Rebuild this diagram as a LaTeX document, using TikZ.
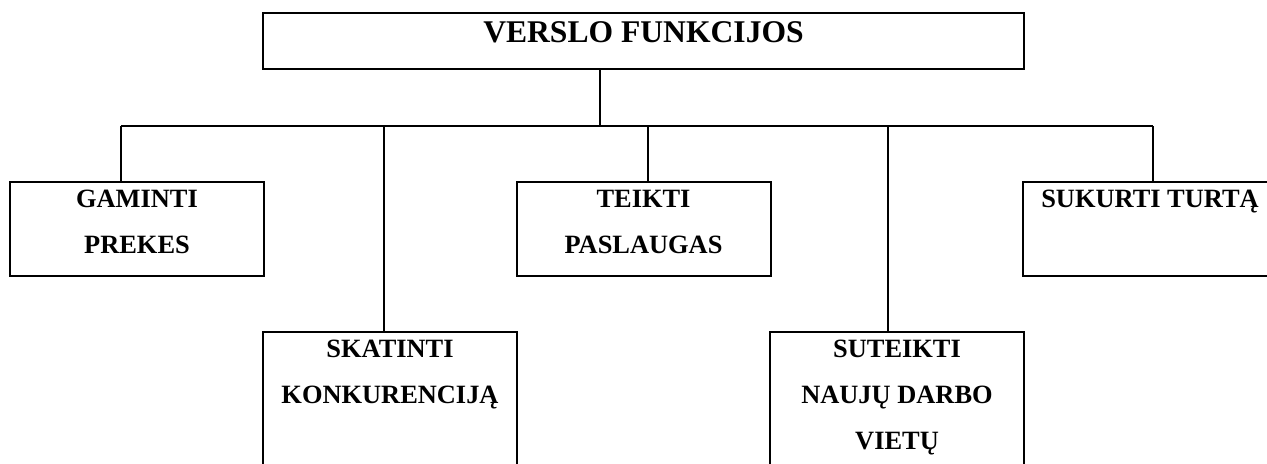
\documentclass[tikz,border=0pt]{standalone}
\usepackage{fontspec}
\setmainfont{Liberation Serif}
\usetikzlibrary{positioning}
\tikzset{
  fbox/.style={draw, inner sep=0pt, minimum width=127pt, minimum height=47pt},
  ftext/.style={anchor=north, inner sep=0pt, align=center, yshift=-4pt,
    font=\bfseries\fontsize{13.2}{23}\selectfont},
}

\begin{document}
\begin{tikzpicture}[x=0.5pt,y=-0.5pt,line width=1pt]
\useasboundingbox (0,0) rectangle (1267,463);
\clip (0,0) rectangle (1267,463);
% boxes
\node[fbox, minimum width=380.5pt, minimum height=28pt] (root) at (643.5,41) {};
\node[fbox] (gam) at (137,229) {};
\node[fbox] (teik) at (643.5,229) {};
\node[fbox] (suk) at (1150,229) {};
\node[fbox, minimum height=80pt] (skat) at (390,412) {};
\node[fbox, minimum height=80pt] (sut) at (897,412) {};
% texts
\node[ftext, yshift=-0.5pt, font=\bfseries\fontsize{15.8}{19}\selectfont] (troot) at (root.north) {VERSLO FUNKCIJOS};
\node[ftext] (tgam) at (gam.north) {GAMINTI\\PREKES};
\node[ftext] (tteik) at (teik.north) {TEIKTI\\PASLAUGAS};
\node[ftext] (tsuk) at (suk.north) {SUKURTI TURTĄ};
\node[ftext] (tskat) at (skat.north) {SKATINTI\\KONKURENCIJĄ};
\node[ftext] (tsut) at (sut.north) {SUTEIKTI\\NAUJŲ DARBO\\VIETŲ};
% connectors
\coordinate (hub) at (600,126);
\coordinate (b1) at (121,126);
\coordinate (b2) at (384,126);
\coordinate (b3) at (648,126);
\coordinate (b4) at (888,126);
\coordinate (b5) at (1153,126);
\draw (root.south -| hub) -- (hub);
\draw (b1) -- (b5);
\foreach \b/\n in {b1/gam, b2/skat, b3/teik, b4/sut, b5/suk}
  \draw (\b) -- (\b |- \n.north);
\end{tikzpicture}
\end{document}
